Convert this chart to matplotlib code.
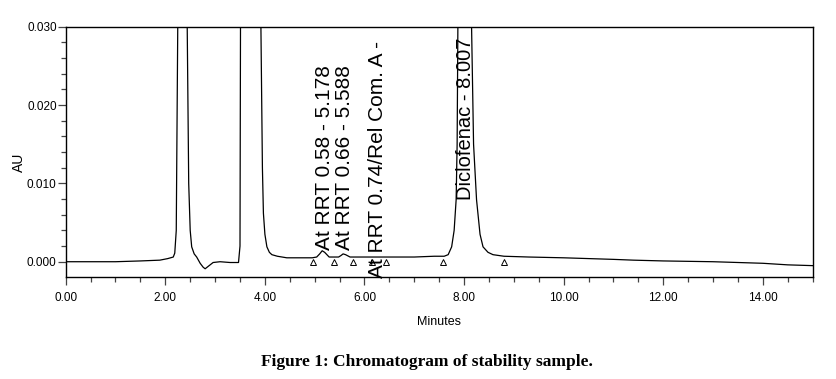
import matplotlib
matplotlib.use("Agg")
import matplotlib.pyplot as plt
from matplotlib.ticker import MultipleLocator, FormatStrFormatter

# ---- data (time in minutes, absorbance in AU) ----
time_min = [0.00, 0.50, 1.00, 1.50, 1.89, 2.05, 2.16, 2.19, 2.22, 2.25, 2.30, 2.35,
            2.40, 2.44, 2.47, 2.50, 2.53, 2.58, 2.63, 2.70, 2.76, 2.80, 2.86, 2.96,
            3.10, 3.30, 3.47, 3.50, 3.51, 3.60, 3.75, 3.88, 3.92, 3.95, 3.97, 4.00,
            4.04, 4.09, 4.14, 4.25, 4.44, 4.70, 4.95, 5.04, 5.10, 5.15, 5.20, 5.29,
            5.40, 5.48, 5.53, 5.57, 5.62, 5.71, 5.90, 6.20, 6.60, 7.00, 7.40, 7.60,
            7.68, 7.75, 7.80, 7.84, 7.86, 7.875, 7.95, 8.00, 8.07, 8.15, 8.19, 8.25,
            8.32, 8.38, 8.48, 8.58, 8.80, 9.30, 10.00, 11.00, 11.40, 12.00, 13.00,
            14.00, 14.50, 15.00]
absorb_au = [0.0000, 0.0000, 0.0000, 0.0001, 0.0002, 0.0004, 0.0006, 0.0011, 0.0040,
             0.0300, 0.0800, 0.1000, 0.0800, 0.0300, 0.0100, 0.0040, 0.0019, 0.0010,
             0.0006, -0.0002, -0.0007, -0.0009, -0.0006, -0.0001, 0.0000, -0.0001,
             -0.0001, 0.0020, 0.0300, 0.1000, 0.1200, 0.0800, 0.0300, 0.0120, 0.0062,
             0.0035, 0.0019, 0.0012, 0.0009, 0.0007, 0.0005, 0.0005, 0.0005, 0.0006,
             0.0010, 0.0014, 0.0012, 0.0006, 0.0006, 0.0006, 0.0008, 0.0010, 0.0009,
             0.0006, 0.0006, 0.0006, 0.0006, 0.0006, 0.0007, 0.0007, 0.0009, 0.0019,
             0.0040, 0.0079, 0.0150, 0.0300, 0.0800, 0.1000, 0.0800, 0.0300, 0.0150,
             0.0079, 0.0035, 0.0019, 0.0012, 0.0009, 0.0007, 0.0006, 0.0005, 0.0003,
             0.0002, 0.0001, 0.0000, -0.0002, -0.0004, -0.0005]

# integration marks (baseline start/end triangles)
mark_times = [4.97, 5.39, 5.77, 6.16, 6.44, 7.58, 8.81]
mark_au = [0.0000, 0.0000, 0.0000, 0.0000, 0.0000, 0.0000, 0.0000]

# peak labels: text, x position, bottom of text in AU
peak_labels = ["At RRT 0.58 - 5.178", "At RRT 0.66 - 5.588",
               "At RRT 0.74/Rel Com. A -", "Diclofenac - 8.007"]
label_x = [5.19, 5.60, 6.27, 8.02]
label_y = [0.0015, 0.0015, -0.0021, 0.0079]
label_size = [15, 15, 15, 14.5]

x_ticks = [0, 2, 4, 6, 8, 10, 12, 14]
y_ticks = [0.000, 0.010, 0.020, 0.030]

plt.rcParams['font.family'] = ['Liberation Sans', 'DejaVu Sans']

fig = plt.figure(figsize=(8.37, 3.79), dpi=100)
ax = fig.add_axes([65.7 / 837, 1 - 277 / 379, (812.7 - 65.7) / 837, (277 - 26.7) / 379])

ax.plot(time_min, absorb_au, color='black', lw=0.9)
ax.plot(mark_times, mark_au, linestyle='none', marker='^', markersize=5,
        markerfacecolor='white', markeredgecolor='black', markeredgewidth=0.7)

for txt, xx, yy, fs in zip(peak_labels, label_x, label_y, label_size):
    ax.text(xx, yy, txt, rotation=90, ha='center', va='bottom', fontsize=fs,
            clip_on=False)

ax.set_xlim(0, 15)
ax.set_ylim(-0.00195, 0.030)
ax.set_xticks(x_ticks)
ax.set_yticks(y_ticks)
ax.xaxis.set_minor_locator(MultipleLocator(0.5))
ax.yaxis.set_minor_locator(MultipleLocator(0.002))
ax.xaxis.set_major_formatter(FormatStrFormatter('%.2f'))
ax.yaxis.set_major_formatter(FormatStrFormatter('%.3f'))
ax.tick_params(axis='both', which='major', direction='out', length=6, width=0.9,
               labelsize=8.5, color='#444444')
ax.tick_params(axis='both', which='minor', direction='out', length=3.5, width=0.9,
               color='#444444')
ax.tick_params(axis='x', which='major', pad=5)
ax.tick_params(axis='y', which='major', pad=0.5)
for s in ax.spines.values():
    s.set_linewidth(1.0)

ax.set_xlabel('Minutes', fontsize=9)
ax.xaxis.set_label_coords(0.5, -0.155)
ax.set_ylabel('AU', fontsize=10)
ax.yaxis.set_label_coords(-0.053, 0.46)

fig.text(0.51, 1 - 362 / 379, 'Figure 1: Chromatogram of stability sample.',
         ha='center', va='center', fontsize=12.5, fontweight='bold',
         family=['Liberation Serif', 'DejaVu Serif'])

fig.savefig('out.png', dpi=100)
